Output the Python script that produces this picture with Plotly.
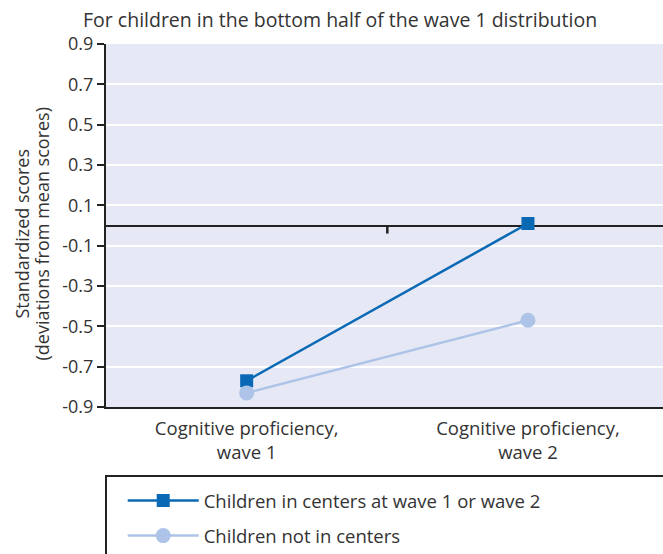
import plotly.graph_objects as go

# data
waves = ["Cognitive proficiency,<br>wave 1", "Cognitive proficiency,<br>wave 2"]
in_centers = [-0.77, 0.01]
not_in_centers = [-0.83, -0.47]

ytick_vals = [0.9, 0.7, 0.5, 0.3, 0.1, -0.1, -0.3, -0.5, -0.7, -0.9]
ytick_text = ["0.9", "0.7", "0.5", "0.3", "0.1", "-0.1", "-0.3", "-0.5", "-0.7", "-0.9"]
ytitle_lines = ["Standardized scores", "(deviations from mean scores)"]

dark_blue = "#0a69b5"
light_blue = "#adc3e7"
txt = "#333333"
font = "Open Sans"

fig = go.Figure()
fig.add_trace(go.Scatter(
    x=[0, 1], y=in_centers, mode="lines+markers",
    name="Children in centers at wave 1 or wave 2", legendgroup="a",
    line=dict(color=dark_blue, width=2.5),
    marker=dict(symbol="square", size=13, color=dark_blue),
))
fig.add_trace(go.Scatter(
    x=[0, 1], y=not_in_centers, mode="lines+markers",
    name="Children not in centers", legendgroup="b",
    line=dict(color=light_blue, width=2.5),
    marker=dict(symbol="circle", size=15, color=light_blue),
))

# small tick on zero line between categories
fig.add_shape(type="line", xref="x", yref="y", x0=0.5, x1=0.5, y0=0, y1=-0.04,
              line=dict(color="#222", width=2.5))
# legend frame (runs off the page like the original)
fig.add_shape(type="rect", xref="paper", yref="paper", x0=0, x1=1.05, y0=-0.53, y1=-0.19,
              line=dict(color="#222", width=2), layer="above")

# y axis title as two rotated lines (tighter leading than plotly's own title)
for i, line in enumerate(ytitle_lines):
    fig.add_annotation(text=line, textangle=-90, showarrow=False,
                       xref="paper", yref="paper", x=0, y=0.5,
                       xanchor="center", yanchor="middle",
                       xshift=-85 + 20 * i, yshift=-8,
                       font=dict(family=font, size=18, color=txt))

fig.update_layout(
    width=663, height=554,
    margin=dict(l=106, r=0, t=44, b=147),
    paper_bgcolor="white", plot_bgcolor="#e6e9f5",
    font=dict(family=font, size=18, color=txt),
    title=dict(text="For children in the bottom half of the wave 1 distribution",
               x=83 / 663, xanchor="left", xref="container",
               y=1 - 20 / 554, yanchor="middle", yref="container",
               font=dict(family=font, size=19.5, color=txt)),
    showlegend=True,
    legend=dict(x=0.03, xanchor="left", y=1 - 482 / 554, yanchor="top", yref="container",
                bgcolor="rgba(0,0,0,0)", tracegroupgap=8,
                font=dict(family=font, size=18.5, color=txt), itemwidth=71),
    xaxis=dict(range=[-0.5, 1.48], tickvals=[0, 1], ticktext=waves,
               showgrid=False, zeroline=False, showline=True, linecolor="#222",
               linewidth=2, ticks="", ticklabelstandoff=4,
               tickfont=dict(size=18.5, color=txt)),
    yaxis=dict(range=[-0.9, 0.9], tickvals=ytick_vals, ticktext=ytick_text,
               showgrid=True, gridcolor="white", gridwidth=2,
               zeroline=True, zerolinecolor="#222", zerolinewidth=2,
               showline=True, linecolor="#222", linewidth=2,
               ticks="outside", ticklen=7, tickwidth=1.5, tickcolor="#222",
               tickfont=dict(size=18, color=txt)),
)

fig.write_html("out.html", config={"displayModeBar": False},
               post_script="document.body.style.margin='0';")
